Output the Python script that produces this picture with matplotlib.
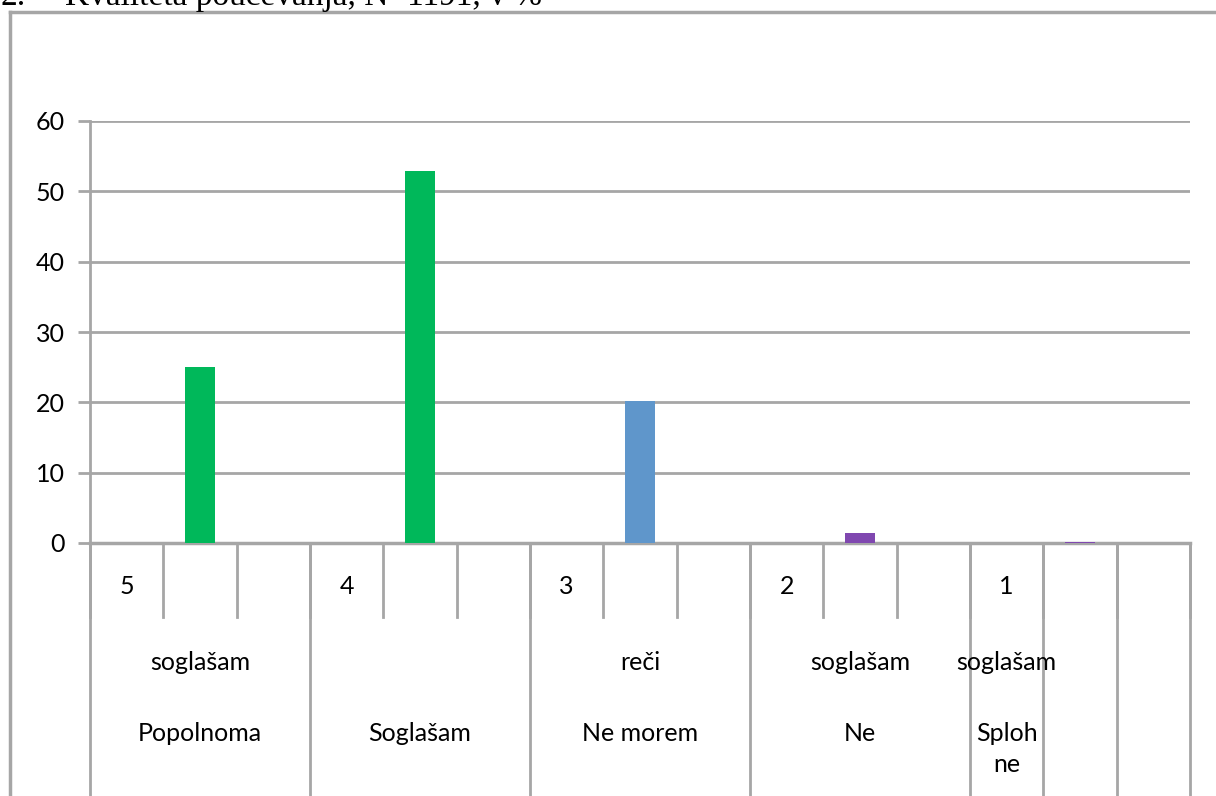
import matplotlib.pyplot as plt
from matplotlib.lines import Line2D

# podatki
ocene = ['5', '4', '3', '2', '1']
vrstica2 = ['soglašam', '', 'reči', 'soglašam', 'soglašam']
vrstica3 = ['Popolnoma', 'Soglašam', 'Ne morem', 'Ne', 'Sploh\nne']
odstotki = [25.0, 52.9, 20.2, 1.4, 0.2]
barve = ['#00B85A', '#00B85A', '#5F96CB', '#8048B0', '#8048B0']
yticks = [0, 10, 20, 30, 40, 50, 60]

# položaji v kategorijah (15 mest, 5 skupin)
poz_stolpcev = [1.5, 4.5, 7.5, 10.5, 13.5]
poz_ocen = [0.5, 3.5, 6.5, 9.5, 12.5]
poz_besedil = [1.5, 4.5, 7.5, 10.5, 12.5]
meje_skupin = [0, 3, 6, 9, 12, 13, 14, 15]

plt.rcParams['font.family'] = ['Lato', 'DejaVu Sans']
siva = '#A6A6A6'

fig = plt.figure(figsize=(12.16, 7.96), dpi=100)
W, H = 1216, 796
ax = fig.add_axes([90 / W, (H - 543) / H, 1100 / W, 422 / H])

ax.bar(poz_stolpcev, odstotki, width=0.41, color=barve, zorder=3)

ax.set_xlim(0, 15)
ax.set_ylim(0, 60)
ax.set_yticks(yticks)
ax.set_xticks([])
ax.yaxis.grid(True, color=siva, linewidth=2)
ax.set_axisbelow(True)
for s in ['top', 'right', 'bottom']:
    ax.spines[s].set_visible(False)
ax.spines['left'].set_color(siva)
ax.spines['left'].set_linewidth(2)
ax.tick_params(axis='y', length=9, width=2, color=siva, labelsize=18, pad=9)

# os kategorij (tabela pod grafom)
tr = ax.get_xaxis_transform()
ax.plot([0, 15], [0, 0], color=siva, lw=2.5, transform=tr, clip_on=False)
for x in range(16):
    ax.plot([x, x], [0, -0.175], color=siva, lw=2, transform=tr, clip_on=False)
for x in meje_skupin:
    ax.plot([x, x], [0, -0.65], color=siva, lw=2, transform=tr, clip_on=False)

for x, t in zip(poz_ocen, ocene):
    ax.text(x, -0.104, t, transform=tr, ha='center', va='center', fontsize=18)
for x, t in zip(poz_besedil, vrstica2):
    ax.text(x, -0.282, t, transform=tr, ha='center', va='center', fontsize=18)
for x, t in zip(poz_besedil, vrstica3):
    ax.text(x, -0.424, t, transform=tr, ha='center', va='top', fontsize=18,
            linespacing=1.45)

# okvir grafa
fig.add_artist(Line2D([10 / W, 10 / W], [0, 1 - 12 / H], color=siva, lw=2.5))
fig.add_artist(Line2D([10 / W, 1], [1 - 12 / H, 1 - 12 / H], color=siva, lw=2.5))

# naslov (odrezan na vrhu, kot v izvirniku)
fig.text(0 / W, 1 - 5 / H, '2.', fontsize=24, family='Liberation Serif', va='baseline')
fig.text(65 / W, 1 - 5 / H, 'Kvaliteta poučevanja, N=1191, v %', fontsize=24,
         family='Liberation Serif', va='baseline')

fig.savefig('out.png', dpi=100)
